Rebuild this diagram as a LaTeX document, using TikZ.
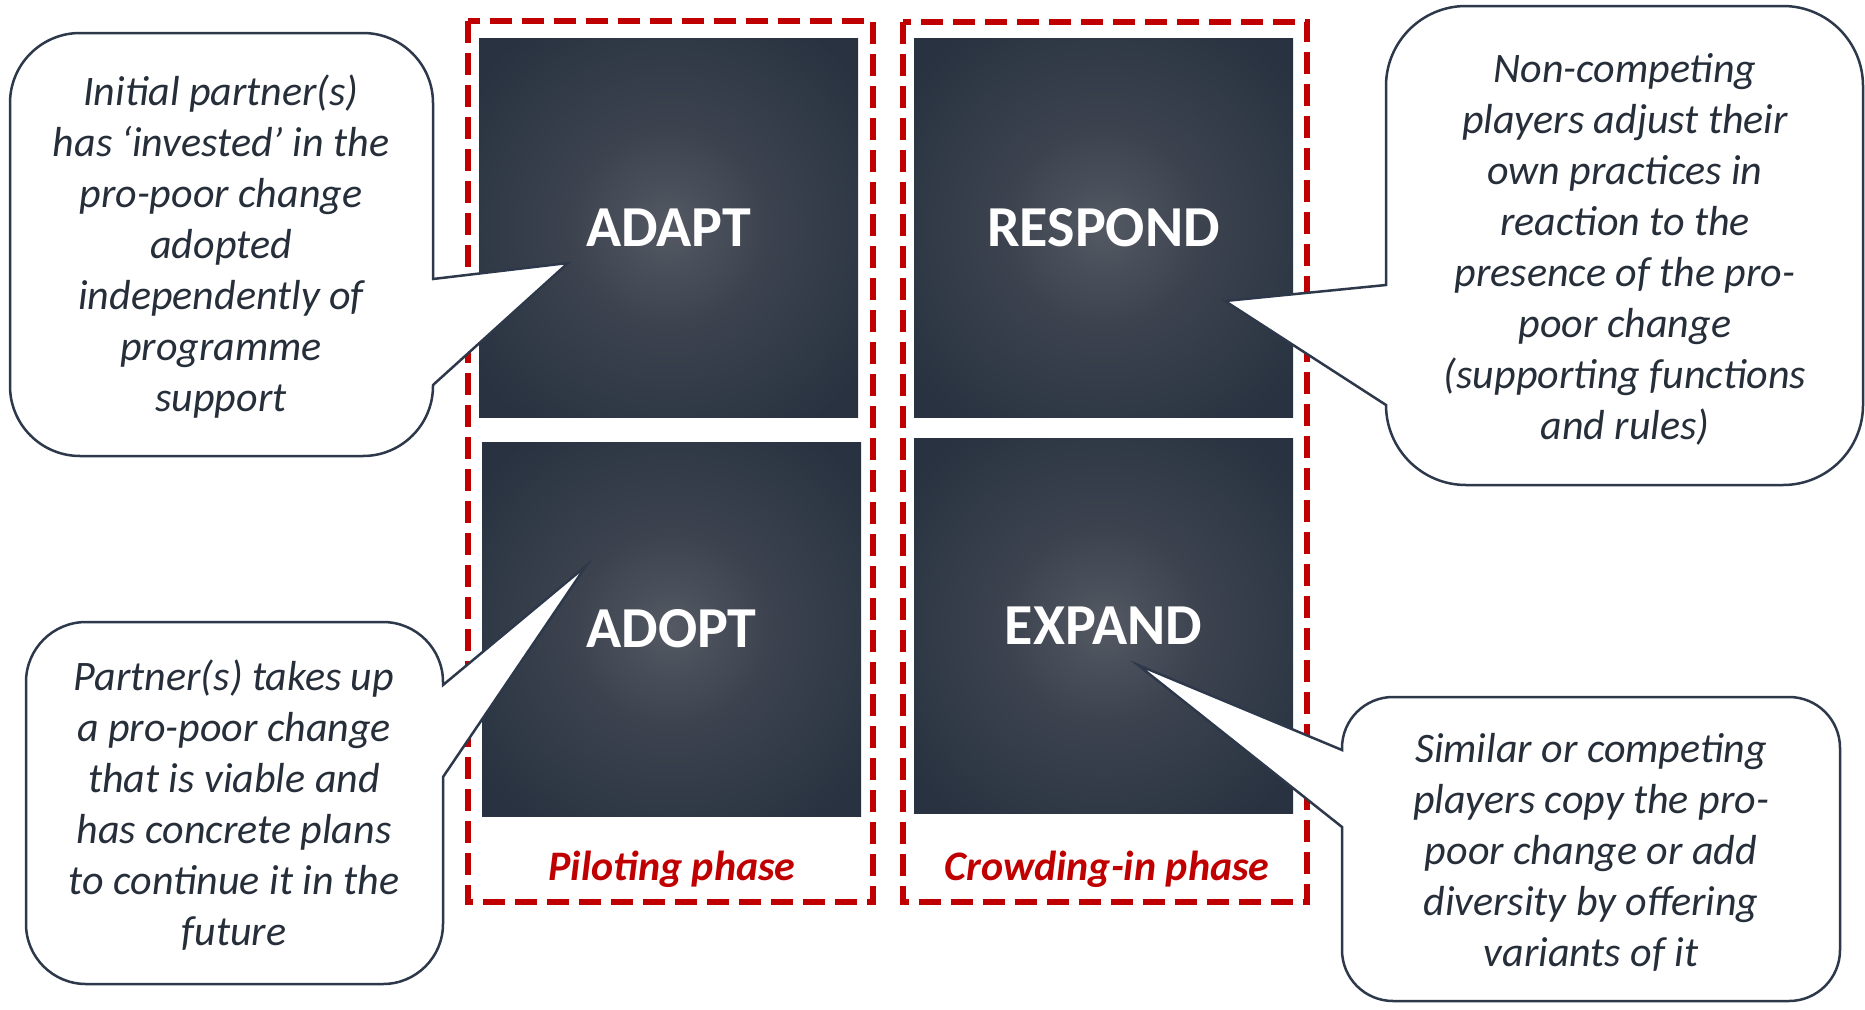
\documentclass[tikz,border=0pt]{standalone}
\usepackage{fontspec}
\setmainfont{Carlito}
\definecolor{sqedge}{RGB}{40,50,64}
\definecolor{sqmid}{RGB}{60,67,79}
\definecolor{sqcent}{RGB}{84,89,99}
\definecolor{phred}{RGB}{192,0,0}
\definecolor{bubline}{RGB}{45,57,74}
\definecolor{bubtextc}{RGB}{38,46,58}
\pgfdeclareradialshading{glow}{\pgfpoint{0bp}{0bp}}{color(0bp)=(sqcent); color(13bp)=(sqmid); color(32bp)=(sqedge); color(50bp)=(sqedge)}
\begin{document}
\begin{tikzpicture}[x=1pt,y=1pt,yscale=-1,
  phasebox/.style={draw=phred, line width=6pt, dash pattern=on 22pt off 10pt},
  sqnode/.style={shading=glow, text=white, font=\bfseries\fontsize{58}{62}\selectfont, inner sep=0pt, minimum width=379pt},
  bubble/.style={fill=white, draw=bubline, line width=2.5pt, line join=miter},
  bubtext/.style={text=bubtextc, font=\itshape\fontsize{42}{51}\selectfont, align=center, inner sep=0pt},
  phasetext/.style={text=phred, font=\bfseries\itshape\fontsize{42}{48}\selectfont, anchor=base}]
\useasboundingbox (0,0) rectangle (1865,1009);

% phase frames
\draw[phasebox] (468,21) rectangle (873,902);
\draw[phasebox] (903,22) rectangle (1307,902);

% squares
\node[sqnode, minimum height=379pt] (adapt) at (668.5,227.5) {ADAPT};
\node[sqnode, minimum height=374pt] (adopt) at (671.5,629) {ADOPT};
\node[sqnode, minimum height=379pt] (respond) at (1103.5,227.5) {RESPOND};
\node[sqnode, minimum height=375pt] (expand) at (1103.5,625.5) {EXPAND};

% phase labels
\node[phasetext] (pilot) at (672,880) {Piloting phase};
\node[phasetext] (crowd) at (1107,880) {Crowding-in phase};

% callout shapes
\draw[bubble] (433,279) -- (568,263) -- (433,385) -- (433,386)
  arc[start angle=0,end angle=90,radius=70] -- (80,456)
  arc[start angle=90,end angle=180,radius=70] -- (10,103)
  arc[start angle=180,end angle=270,radius=70] -- (363,33)
  arc[start angle=270,end angle=360,radius=70] -- cycle;

\draw[bubble] (1386,405) -- (1225,301) -- (1386,285) -- (1386,86)
  arc[start angle=180,end angle=270,radius=80] -- (1783,6)
  arc[start angle=270,end angle=360,radius=80] -- (1863,405)
  arc[start angle=0,end angle=90,radius=80] -- (1466,485)
  arc[start angle=90,end angle=180,radius=80] -- cycle;

\draw[bubble] (443,685) -- (586,566) -- (443,777) -- (443,924)
  arc[start angle=0,end angle=90,radius=60] -- (86,984)
  arc[start angle=90,end angle=180,radius=60] -- (26,682)
  arc[start angle=180,end angle=270,radius=60] -- (383,622)
  arc[start angle=270,end angle=360,radius=60] -- cycle;

\draw[bubble] (1342,827) -- (1138,665) -- (1342,750) -- (1342,748)
  arc[start angle=180,end angle=270,radius=51] -- (1789,697)
  arc[start angle=270,end angle=360,radius=51] -- (1840,950)
  arc[start angle=0,end angle=90,radius=51] -- (1393,1001)
  arc[start angle=90,end angle=180,radius=51] -- cycle;

% callout texts
\node[bubtext] (t1) at (221,247) {Initial partner(s)\\has ‘invested’ in the\\pro-poor change\\adopted\\independently of\\programme\\support};
\node[bubtext] (t2) at (1625,249) {Non-competing\\players adjust their\\own practices in\\reaction to the\\presence of the pro-\\poor change\\(supporting functions\\and rules)};
\node[bubtext] (t3) at (234,805) {Partner(s) takes up\\a pro-poor change\\that is viable and\\has concrete plans\\to continue it in the\\future};
\node[bubtext] (t4) at (1591,852) {Similar or competing\\players copy the pro-\\poor change or add\\diversity by offering\\variants of it};
\end{tikzpicture}
\end{document}
